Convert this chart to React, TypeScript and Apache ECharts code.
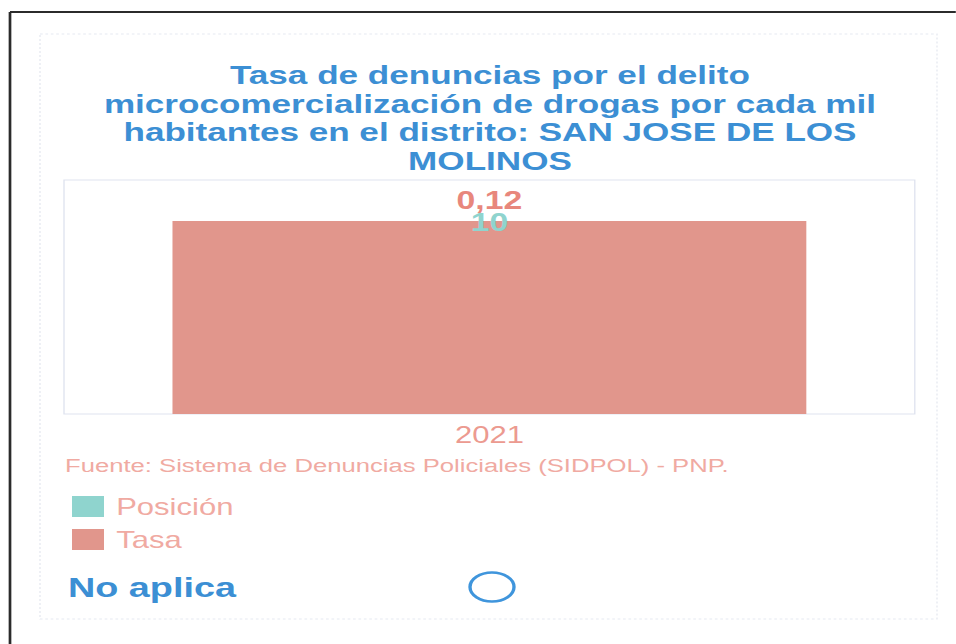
import React, { useEffect, useRef } from "react";
import * as echarts from "echarts";

// ---- data ----
const categories: string[] = ["2021"];
const posicionValues: number[] = [10];
const tasaValues: number[] = [0.12];
const seriesNames: string[] = ["Posición", "Tasa"];
const titleText =
  "Tasa de denuncias por el delito\nmicrocomercialización de drogas por cada mil\nhabitantes en el distrito: SAN JOSE DE LOS\nMOLINOS";
const sourceText = "Fuente: Sistema de Denuncias Policiales (SIDPOL) - PNP.";
const noteText = "No aplica";

// ---- layout (the scanned reference is stretched horizontally) ----
const SX = 1.35;
const W = 956 / SX;
const H = 644;
const px = (x: number) => x / SX;

const TEAL = "#8fd4ce";
const SALMON_BAR = "#e1968c";
const SALMON_TEXT = "#ec9a90";
const SALMON_LIGHT = "#f0aaa2";
const BLUE = "#3c8fd4";
const FONT = "'Liberation Sans', Arial, sans-serif";

export default function App() {
  const ref = useRef<HTMLDivElement>(null);

  useEffect(() => {
    if (!ref.current) return;
    const chart = echarts.init(ref.current, null, { renderer: "svg" });
    chart.setOption({
      animation: false,
      backgroundColor: "#ffffff",
      textStyle: { fontFamily: FONT },
      grid: {
        show: true,
        left: px(64),
        right: W - px(915),
        top: 180,
        bottom: H - 414,
        borderColor: "#dfe3ef",
        borderWidth: 1,
        backgroundColor: "transparent",
      },
      legend: {
        orient: "vertical",
        left: px(72) - 5,
        top: 490,
        itemWidth: px(32),
        itemHeight: 21,
        itemGap: 10,
        icon: "rect",
        textStyle: {
          color: SALMON_LIGHT,
          fontSize: 23,
          fontFamily: FONT,
          padding: [0, 0, 0, 4],
        },
        data: [
          { name: seriesNames[0], itemStyle: { color: TEAL, opacity: 1 } },
          { name: seriesNames[1], itemStyle: { color: SALMON_BAR } },
        ],
      },
      xAxis: {
        type: "category",
        data: categories,
        axisLine: { show: false },
        axisTick: { show: false },
        splitLine: { show: false },
        axisLabel: { color: SALMON_TEXT, fontSize: 23, margin: 9, fontFamily: FONT },
      },
      yAxis: [
        { type: "value", show: false, min: 0, max: 0.1455, splitLine: { show: false } },
        { type: "value", show: false, min: 0, max: 13.45, splitLine: { show: false } },
      ],
      series: [
        {
          name: seriesNames[0],
          type: "bar",
          yAxisIndex: 1,
          data: posicionValues,
          barWidth: "74.5%",
          barGap: "-100%",
          z: 3,
          itemStyle: { color: "rgba(0,0,0,0)" },
          label: {
            show: true,
            position: "top",
            distance: 5,
            color: TEAL,
            fontSize: 25,
            fontWeight: "bold",
            fontFamily: FONT,
          },
        },
        {
          name: seriesNames[1],
          type: "bar",
          yAxisIndex: 0,
          data: tasaValues,
          barWidth: "74.5%",
          barGap: "-100%",
          z: 2,
          itemStyle: { color: SALMON_BAR },
          label: {
            show: true,
            position: "top",
            distance: 8,
            color: "#e8877c",
            fontSize: 25,
            fontWeight: "bold",
            fontFamily: FONT,
            formatter: (p: any) => String(p.value).replace(".", ","),
          },
        },
      ],
      graphic: [
        // scan frame
        {
          type: "line",
          silent: true,
          shape: { x1: px(10), y1: 12, x2: W, y2: 12 },
          style: { stroke: "#2b2b2b", lineWidth: 2 },
        },
        {
          type: "line",
          silent: true,
          shape: { x1: px(10), y1: 12, x2: px(10), y2: H },
          style: { stroke: "#2b2b2b", lineWidth: 2 },
        },
        // faint visual border
        {
          type: "rect",
          silent: true,
          shape: { x: px(40), y: 34, width: px(937) - px(40), height: 619 - 34 },
          style: { fill: "none", stroke: "#e6e9f1", lineWidth: 1, lineDash: [2, 2] },
        },
        {
          type: "text",
          silent: true,
          style: {
            text: titleText,
            x: px(490),
            y: 61,
            align: "center",
            verticalAlign: "top",
            fontSize: 26,
            lineHeight: 28.5,
            fontWeight: "bold",
            fontFamily: FONT,
            fill: BLUE,
          },
        },
        {
          type: "text",
          silent: true,
          style: {
            text: sourceText,
            x: px(65),
            y: 466,
            align: "left",
            verticalAlign: "middle",
            fontSize: 19,
            fontFamily: FONT,
            fill: SALMON_LIGHT,
          },
        },
        {
          type: "text",
          silent: true,
          style: {
            text: noteText,
            x: px(68),
            y: 587,
            align: "left",
            verticalAlign: "middle",
            fontSize: 28,
            fontWeight: "bold",
            fontFamily: FONT,
            fill: BLUE,
          },
        },
        {
          type: "ellipse",
          silent: true,
          shape: { cx: px(492), cy: 587, rx: px(22), ry: 14.5 },
          style: { fill: "none", stroke: "#3f95dc", lineWidth: 2.5 },
        },
      ],
    });
    return () => chart.dispose();
  }, []);

  return (
    <div
      style={{
        position: "absolute",
        left: 0,
        top: 0,
        width: 956,
        height: 644,
        overflow: "hidden",
        background: "#fff",
      }}
    >
      <div
        ref={ref}
        style={{
          width: W,
          height: H,
          transform: `scaleX(${SX})`,
          transformOrigin: "0 0",
        }}
      />
    </div>
  );
}
